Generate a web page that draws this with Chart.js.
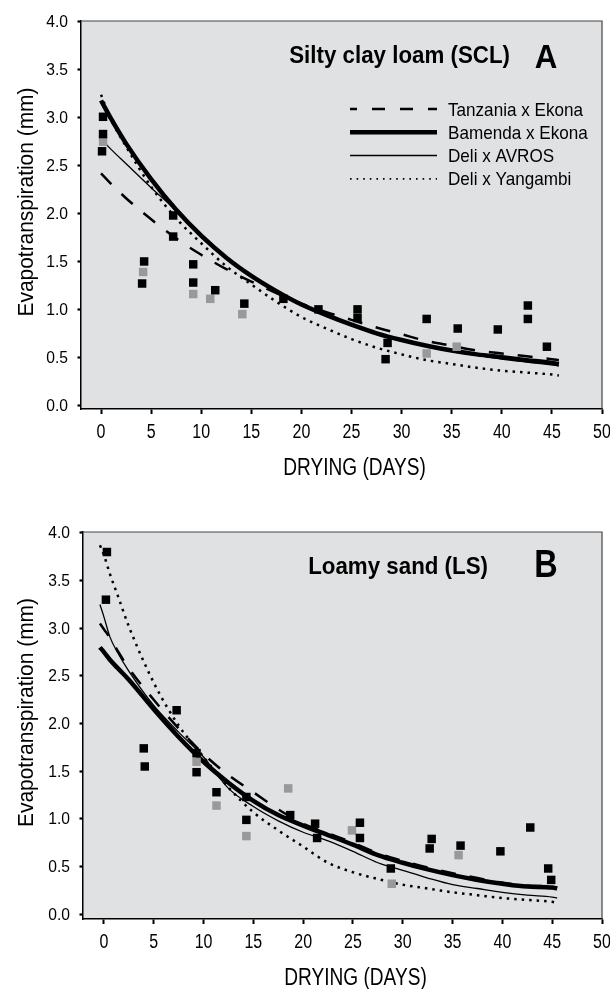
<!DOCTYPE html>
<html>
<head>
<meta charset="utf-8">
<script src="https://cdn.jsdelivr.net/npm/chart.js@4"></script>
<style>
  html, body { margin: 0; padding: 0; background: #fff; }
  #wrap { position: relative; width: 610px; height: 989px; }
  #boxA { position: absolute; left: 0; top: 0; width: 610px; height: 490px; }
  #boxB { position: absolute; left: 0; top: 490px; width: 610px; height: 499px; }
</style>
</head>
<body>
<div id="wrap">
  <div id="boxA"><canvas id="chartA" width="610" height="490"></canvas></div>
  <div id="boxB"><canvas id="chartB" width="610" height="499"></canvas></div>
</div>
<script>
// axis ticks
const xTickValues = [0, 5, 10, 15, 20, 25, 30, 35, 40, 45, 50];
const yTickValues = [0, 0.5, 1, 1.5, 2, 2.5, 3, 3.5, 4];

const seriesNames = ['Tanzania x Ekona', 'Bamenda x Ekona', 'Deli x AVROS', 'Deli x Yangambi'];

// Panel A - silty clay loam: measured points
const blackDaysA = [0.2, 0.2, 0.1, 4.3, 4.1, 7.2, 7.2, 9.2, 9.2, 11.4, 14.3, 18.2, 21.7, 25.6, 25.6, 28.6, 28.4, 32.5, 35.6, 39.6, 42.6, 42.6, 44.5];
const blackEtA   = [3.01, 2.83, 2.65, 1.50, 1.27, 1.98, 1.76, 1.47, 1.28, 1.20, 1.06, 1.11, 1.00, 1.00, 0.91, 0.65, 0.48, 0.90, 0.80, 0.79, 1.04, 0.90, 0.61];
const grayDaysA  = [0.2, 4.2, 9.2, 10.9, 14.1, 32.5, 35.5];
const grayEtA    = [2.75, 1.39, 1.16, 1.11, 0.95, 0.54, 0.61];

// Panel A - fitted curves
const curveDaysA = [0, 1, 2.5, 5, 7.5, 10, 12.5, 15, 17.5, 20, 22.5, 25, 27.5, 30, 32.5, 35, 37.5, 40, 42.5, 45, 45.7];
const tanzaniaA  = [2.42, 2.31, 2.16, 1.94, 1.74, 1.57, 1.42, 1.29, 1.17, 1.06, 0.97, 0.89, 0.81, 0.74, 0.67, 0.62, 0.57, 0.54, 0.51, 0.48, 0.47];
const bamendaA   = [3.18, 2.99, 2.73, 2.36, 2.04, 1.77, 1.54, 1.35, 1.19, 1.05, 0.94, 0.84, 0.75, 0.68, 0.62, 0.57, 0.53, 0.50, 0.47, 0.44, 0.43];
const avrosA     = [2.78, 2.67, 2.52, 2.27, 2.03, 1.75, 1.53, 1.34, 1.18, 1.04, 0.93, 0.83, 0.74, 0.67, 0.61, 0.56, 0.52, 0.48, 0.45, 0.42, 0.41];
const yangambiA  = [3.24, 2.98, 2.70, 2.28, 1.95, 1.69, 1.45, 1.26, 1.08, 0.92, 0.80, 0.69, 0.60, 0.53, 0.47, 0.43, 0.39, 0.36, 0.34, 0.32, 0.31];

// Panel B - loamy sand: measured points
const blackDaysB = [0.3, 0.2, 4.0, 4.1, 7.3, 9.3, 9.3, 11.3, 14.3, 14.3, 18.7, 21.2, 21.4, 25.7, 25.7, 28.8, 32.9, 32.7, 35.8, 39.8, 42.8, 44.6, 44.9];
const blackEtB   = [3.80, 3.30, 1.74, 1.55, 2.14, 1.69, 1.49, 1.28, 1.23, 0.99, 1.04, 0.95, 0.80, 0.96, 0.80, 0.48, 0.79, 0.69, 0.72, 0.66, 0.91, 0.48, 0.36];
const grayDaysB  = [9.3, 11.3, 14.3, 18.5, 24.9, 28.9, 35.6];
const grayEtB    = [1.60, 1.14, 0.82, 1.32, 0.88, 0.32, 0.62];

// Panel B - fitted curves
const curveDaysB = [-0.4, 0, 0.6, 1.4, 2.5, 5, 7.5, 10, 12.5, 15, 17.5, 20, 22.5, 25, 27.5, 30, 32.5, 35, 37.5, 40, 42.5, 45, 45.5];
const tanzaniaB  = [3.05, 2.99, 2.90, 2.76, 2.58, 2.25, 1.95, 1.68, 1.46, 1.28, 1.10, 0.95, 0.85, 0.75, 0.64, 0.56, 0.49, 0.43, 0.38, 0.33, 0.30, 0.29, 0.28];
const bamendaB   = [2.80, 2.75, 2.67, 2.58, 2.46, 2.15, 1.86, 1.60, 1.38, 1.19, 1.04, 0.93, 0.83, 0.73, 0.62, 0.54, 0.47, 0.41, 0.36, 0.32, 0.29, 0.28, 0.27];
const avrosB     = [3.25, 3.12, 2.91, 2.74, 2.55, 2.19, 1.91, 1.65, 1.32, 1.13, 0.98, 0.86, 0.77, 0.66, 0.54, 0.46, 0.38, 0.31, 0.27, 0.23, 0.20, 0.18, 0.17];
const yangambiB  = [3.87, 3.77, 3.57, 3.34, 3.02, 2.43, 1.98, 1.65, 1.33, 1.07, 0.88, 0.71, 0.54, 0.44, 0.37, 0.31, 0.27, 0.23, 0.20, 0.17, 0.15, 0.13, 0.12];

const FONT = "'Liberation Sans', Arial, sans-serif";
const PLOT_BG = '#e0e1e3';

// line look for each cross, same order as seriesNames
const lineStyles = [
  { width: 2.5, dash: [15, 14], legendDash: [13, 15], legendOffset: 6, legendWidth: 2.5 },
  { width: 4.5, dash: [], legendDash: [], legendOffset: 0, legendWidth: 4.5 },
  { width: 1.3, dash: [], legendDash: [], legendOffset: 0, legendWidth: 1.5 },
  { width: 2.5, dash: [2.5, 5], legendDash: [1.6, 5], legendOffset: 0, legendWidth: 1.6 }
];

function toPoints(xs, ys) {
  return xs.map((x, i) => ({ x: x, y: ys[i] }));
}

function curveDataset(name, xs, ys, style) {
  return {
    label: name,
    data: toPoints(xs, ys),
    showLine: true,
    borderColor: '#000',
    borderWidth: style.width,
    borderDash: style.dash,
    borderCapStyle: 'butt',
    pointRadius: 0,
    fill: false,
    cubicInterpolationMode: 'monotone',
    order: 2
  };
}

function pointDataset(xs, ys, color) {
  return {
    data: toPoints(xs, ys),
    showLine: false,
    pointStyle: 'rect',
    pointRadius: 6,
    pointBorderWidth: 0,
    backgroundColor: color,
    borderColor: color,
    order: 1
  };
}

// condensed-looking text: squeeze the glyphs horizontally
function narrowText(ctx, text, x, y, o) {
  ctx.save();
  ctx.translate(x, y);
  if (o.rotate) ctx.rotate(o.rotate);
  ctx.scale(o.sx, 1);
  ctx.font = (o.bold ? 'bold ' : '') + o.size + 'px ' + FONT;
  ctx.textAlign = o.align || 'left';
  ctx.textBaseline = 'alphabetic';
  ctx.fillStyle = '#000';
  ctx.fillText(text, 0, 0);
  ctx.restore();
}

// plot background, frame, labels, panel letter and (optionally) the legend
const panelDecor = {
  id: 'panelDecor',
  beforeDraw(chart) {
    const a = chart.chartArea;
    const ctx = chart.ctx;
    ctx.save();
    ctx.fillStyle = PLOT_BG;
    ctx.fillRect(a.left, a.top, a.right - a.left, a.bottom - a.top);
    ctx.restore();
  },
  afterDraw(chart, args, opts) {
    const a = chart.chartArea;
    const ctx = chart.ctx;
    const xs = chart.scales.x;
    const ys = chart.scales.y;

    ctx.save();
    ctx.strokeStyle = '#444';
    ctx.lineWidth = 1.2;
    ctx.beginPath();
    ctx.moveTo(a.left, a.top);
    ctx.lineTo(a.right, a.top);
    ctx.lineTo(a.right, a.bottom);
    ctx.stroke();
    ctx.restore();

    // tick labels
    xs.ticks.forEach(t => {
      narrowText(ctx, String(t.value), xs.getPixelForValue(t.value), a.bottom + 28.5,
        { size: 20, sx: 0.8, align: 'center' });
    });
    ys.ticks.forEach(t => {
      narrowText(ctx, t.value.toFixed(1), a.left - 13, ys.getPixelForValue(t.value) + 5.5,
        { size: 17, sx: 0.92, align: 'right' });
    });

    // axis titles
    narrowText(ctx, 'DRYING (DAYS)', (a.left + a.right) / 2 + 13, a.bottom + 66,
      { size: 23, sx: 0.83, align: 'center' });
    narrowText(ctx, 'Evapotranspiration (mm)', 33, (a.top + a.bottom) / 2 - 13,
      { size: 22, sx: 0.95, align: 'center', rotate: -Math.PI / 2 });

    // soil label and panel letter
    narrowText(ctx, opts.soil, a.right - opts.soilRight, a.top + 42,
      { size: 24, sx: 0.93, bold: true, align: 'right' });
    narrowText(ctx, opts.letter, a.right - 56, a.top + opts.letterDy,
      { size: opts.letterSize, sx: opts.letterSx, bold: true, align: 'center' });

    if (opts.legend) {
      seriesNames.forEach((name, i) => {
        const y = a.top + 88 + 23.3 * i;
        const st = lineStyles[i];
        ctx.save();
        ctx.beginPath();
        ctx.setLineDash(st.legendDash);
        ctx.lineDashOffset = st.legendOffset;
        ctx.lineWidth = st.legendWidth;
        ctx.strokeStyle = '#000';
        ctx.moveTo(a.right - 252, y);
        ctx.lineTo(a.right - 165, y);
        ctx.stroke();
        ctx.restore();
        narrowText(ctx, name, a.right - 154, y + 6.5, { size: 19, sx: 0.9 });
      });
    }
  }
};

function buildChart(canvasId, cfg) {
  const ctx = document.getElementById(canvasId).getContext('2d');
  return new Chart(ctx, {
    type: 'scatter',
    data: {
      datasets: [
        pointDataset(cfg.blackDays, cfg.blackEt, '#000'),
        pointDataset(cfg.grayDays, cfg.grayEt, '#999'),
        curveDataset(seriesNames[0], cfg.curveDays, cfg.curves[0], lineStyles[0]),
        curveDataset(seriesNames[1], cfg.curveDays, cfg.curves[1], lineStyles[1]),
        curveDataset(seriesNames[2], cfg.curveDays, cfg.curves[2], lineStyles[2]),
        curveDataset(seriesNames[3], cfg.curveDays, cfg.curves[3], lineStyles[3])
      ]
    },
    options: {
      responsive: false,
      animation: false,
      layout: { padding: { top: cfg.padTop, right: 8, bottom: 0, left: 0 } },
      plugins: {
        legend: { display: false },
        tooltip: { enabled: false },
        panelDecor: {
          soil: cfg.soil, soilRight: cfg.soilRight, letter: cfg.letter,
          letterDy: cfg.letterDy, letterSize: cfg.letterSize, letterSx: cfg.letterSx,
          legend: cfg.legend
        }
      },
      scales: {
        x: {
          type: 'linear',
          min: cfg.xMin,
          max: 50,
          afterBuildTicks: s => { s.ticks = xTickValues.map(v => ({ value: v })); },
          afterFit: s => { s.height = cfg.xAxisHeight; },
          grid: { drawOnChartArea: false, color: '#000', tickLength: 5, tickWidth: 2 },
          border: { display: true, color: '#000', width: 1.5 },
          ticks: { display: false },
          title: { display: false }
        },
        y: {
          type: 'linear',
          min: cfg.yMin,
          max: 4.01,
          afterBuildTicks: s => { s.ticks = yTickValues.map(v => ({ value: v })); },
          afterFit: s => { s.width = cfg.yAxisWidth; },
          grid: {
            drawOnChartArea: false,
            color: '#000',
            tickLength: 7,
            tickWidth: 2.2,
            tickBorderDash: [3.5, 3.5],
            tickBorderDashOffset: 3.5
          },
          border: { display: true, color: '#000', width: 1.5 },
          ticks: { display: false },
          title: { display: false }
        }
      }
    },
    plugins: [panelDecor]
  });
}

buildChart('chartA', {
  blackDays: blackDaysA, blackEt: blackEtA,
  grayDays: grayDaysA, grayEt: grayEtA,
  curveDays: curveDaysA,
  curves: [tanzaniaA, bamendaA, avrosA, yangambiA],
  soil: 'Silty clay loam (SCL)', soilRight: 92,
  letter: 'A', letterDy: 47, letterSize: 34, letterSx: 0.92, legend: true,
  padTop: 21, xMin: -2, yMin: -0.04,
  xAxisHeight: 81, yAxisWidth: 81
});

buildChart('chartB', {
  blackDays: blackDaysB, blackEt: blackEtB,
  grayDays: grayDaysB, grayEt: grayEtB,
  curveDays: curveDaysB,
  curves: [tanzaniaB, bamendaB, avrosB, yangambiB],
  soil: 'Loamy sand (LS)', soilRight: 114,
  letter: 'B', letterDy: 45, letterSize: 39, letterSx: 0.83, legend: false,
  padTop: 42, xMin: -2.1, yMin: -0.05,
  xAxisHeight: 70, yAxisWidth: 83
});
</script>
</body>
</html>
